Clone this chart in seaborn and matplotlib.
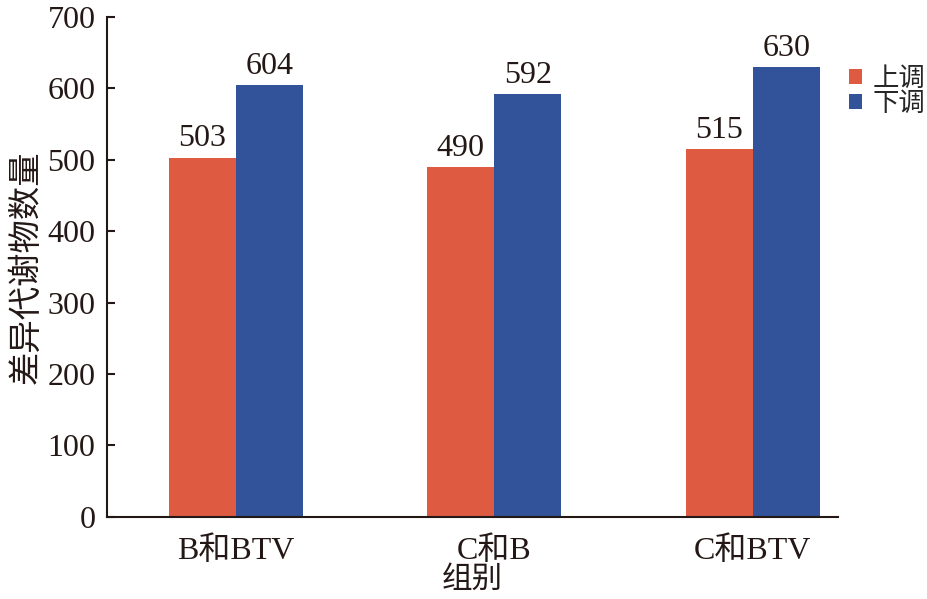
import pandas as pd
import numpy as np
import seaborn as sns
import matplotlib.pyplot as plt

# Data
groups = ['B和BTV', 'C和B', 'C和BTV']
up = [503, 490, 515]
down = [604, 592, 630]
hue_names = ['上调', '下调']

data = pd.DataFrame({
    'group': groups * 2,
    'kind': [hue_names[0]] * len(groups) + [hue_names[1]] * len(groups),
    'count': up + down,
})

sns.set_style('ticks')
plt.rcParams['font.family'] = ['Liberation Serif', 'Noto Sans CJK SC']

fig = plt.figure(figsize=(9.28, 5.99), dpi=100)
ax = fig.add_axes([0.115, 0.137, 0.788, 0.835])

palette = {'上调': '#DE5A41', '下调': '#32529A'}
sns.barplot(data=data, x='group', y='count', hue='kind', palette=palette,
            width=0.52, saturation=1, linewidth=0, ax=ax)

# value labels
for container in ax.containers:
    ax.bar_label(container, fmt='%d', padding=3, fontsize=23, color='#231815')

ax.set_ylim(0, 700)
ax.set_yticks(np.arange(0, 701, 100))
ax.set_xlim(-0.5, 2.33)
ax.tick_params(axis='y', direction='in', length=6, width=1.5, labelsize=23,
               colors='#231815', pad=8)
ax.tick_params(axis='x', length=0, labelsize=23, colors='#231815', pad=14)
for s in ['left', 'bottom']:
    ax.spines[s].set_linewidth(1.5)
    ax.spines[s].set_color('#231815')
sns.despine(ax=ax)

ax.set_xlabel('组别', fontsize=22, color='#231815', labelpad=0)
ax.set_ylabel('差异代谢物数量', fontsize=24, color='#231815', labelpad=4)

ax.legend(title=None, frameon=False, fontsize=19, loc='upper left',
          bbox_to_anchor=(1.0, 0.92), handlelength=0.5, handleheight=0.5,
          handletextpad=0.4, labelspacing=0.05, borderaxespad=0)

fig.savefig('out.png', dpi=100)
